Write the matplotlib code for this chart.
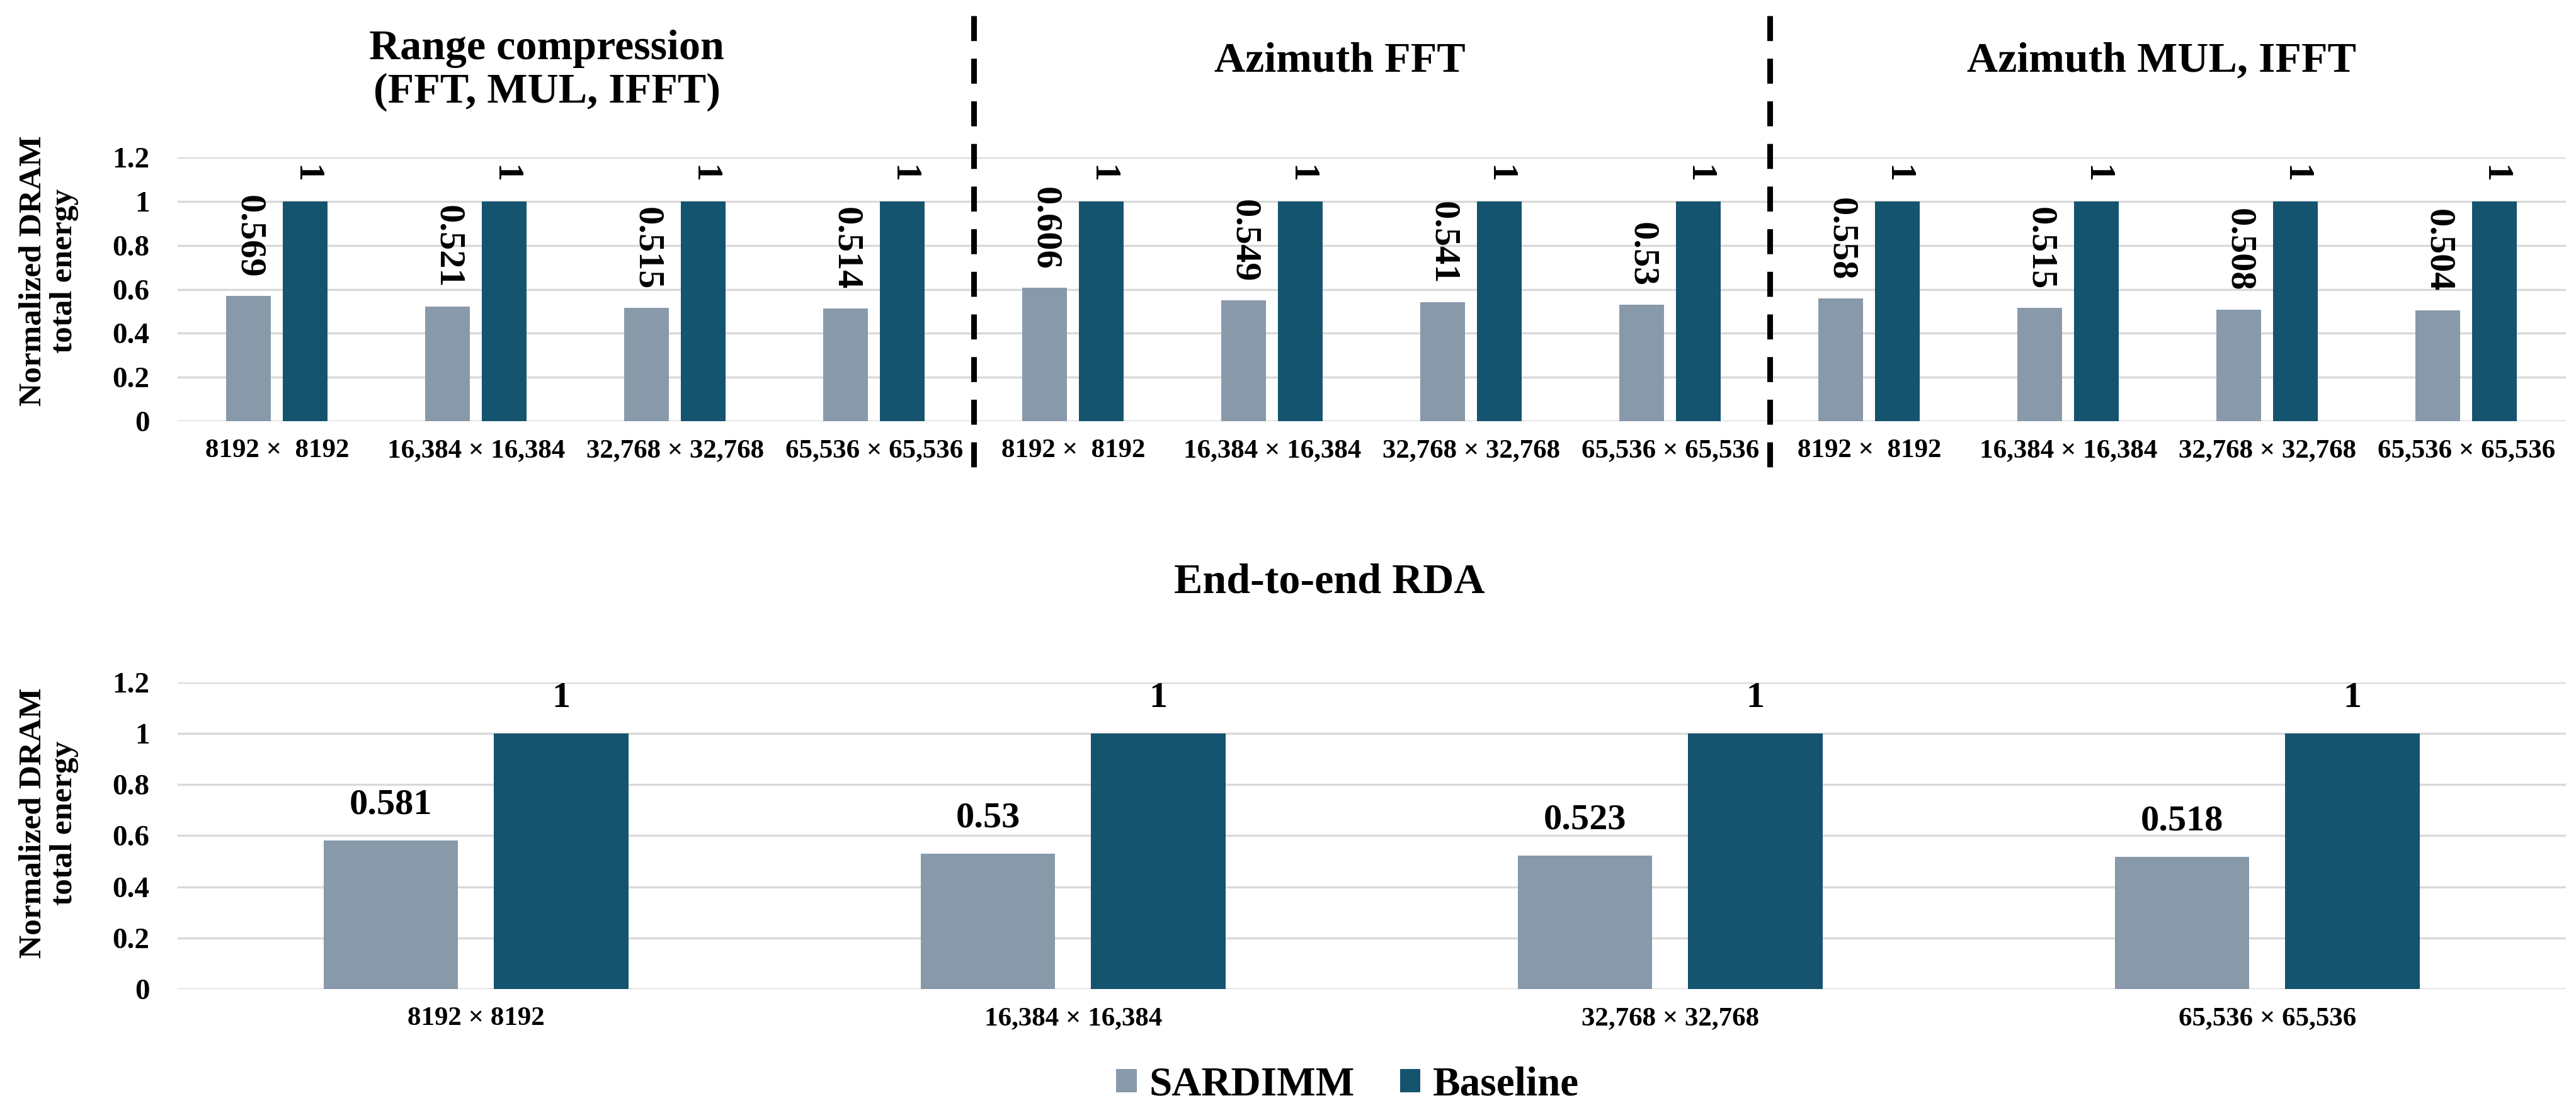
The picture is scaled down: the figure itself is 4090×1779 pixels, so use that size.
import matplotlib
matplotlib.use('Agg')
import matplotlib.pyplot as plt
from matplotlib.transforms import blended_transform_factory

# data
sizes_top = ['8192 ×  8192', '16,384 × 16,384', '32,768 × 32,768', '65,536 × 65,536'] * 3
sizes_bottom = ['8192 × 8192', '16,384 × 16,384', '32,768 × 32,768', '65,536 × 65,536']
stage_titles = ['Range compression\n(FFT, MUL, IFFT)', 'Azimuth FFT', 'Azimuth MUL, IFFT']
sardimm_stage = [0.569, 0.521, 0.515, 0.514, 0.606, 0.549, 0.541, 0.53, 0.558, 0.515, 0.508, 0.504]
baseline_stage = [1, 1, 1, 1, 1, 1, 1, 1, 1, 1, 1, 1]
sardimm_e2e = [0.581, 0.53, 0.523, 0.518]
baseline_e2e = [1, 1, 1, 1]
yticks = [0, 0.2, 0.4, 0.6, 0.8, 1, 1.2]

c_sardimm = '#8899AA'
c_base = '#14546F'
grid_c = '#D9D9D9'
W = 0.225
OFF = 0.1425

plt.rcParams['font.family'] = ['Liberation Serif', 'DejaVu Serif']
plt.rcParams['font.weight'] = 'bold'

fig = plt.figure(figsize=(40.91, 17.79), dpi=100)
ax1 = fig.add_axes([0.0689, 0.6239, 0.9269, 0.2356])
ax2 = fig.add_axes([0.0689, 0.1169, 0.9269, 0.2738])


def style(ax, labels, pad):
    ax.set_ylim(0, 1.2)
    ax.set_yticks(yticks)
    ax.set_yticklabels([f'{t:g}' for t in yticks], fontsize=34, fontweight='bold')
    ax.set_xticks(range(len(labels)))
    ax.set_xticklabels(labels, fontsize=31, fontweight='bold')
    ax.set_xlim(-0.5, len(labels) - 0.5)
    ax.tick_params(axis='y', length=0, pad=32)
    ax.tick_params(axis='x', length=0, pad=pad)
    for s in ax.spines.values():
        s.set_visible(False)
    ax.yaxis.grid(True, color=grid_c, linewidth=2.4)
    ax.set_axisbelow(True)


x1 = list(range(len(sizes_top)))
b1 = ax1.bar([i - OFF for i in x1], sardimm_stage, W, color=c_sardimm, label='SARDIMM')
b2 = ax1.bar([i + OFF for i in x1], baseline_stage, W, color=c_base, label='Baseline')
style(ax1, sizes_top, 20)
for bars, vals in ((b1, sardimm_stage), (b2, baseline_stage)):
    for r, v in zip(bars, vals):
        ax1.annotate(f'{v:g}', (r.get_x() + r.get_width() / 2, v), xytext=(0, 21),
                     textcoords='offset points', rotation=-90, rotation_mode='anchor',
                     ha='right', va='center', fontsize=42, fontweight='bold')

x2 = list(range(len(sizes_bottom)))
e1 = ax2.bar([i - OFF for i in x2], sardimm_e2e, W, color=c_sardimm, label='SARDIMM')
e2 = ax2.bar([i + OFF for i in x2], baseline_e2e, W, color=c_base, label='Baseline')
style(ax2, sizes_bottom, 20)
for bars, vals in ((e1, sardimm_e2e), (e2, baseline_e2e)):
    for r, v in zip(bars, vals):
        ax2.annotate(f'{v:g}', (r.get_x() + r.get_width() / 2, v), xytext=(0, 22),
                     textcoords='offset points', ha='center', va='bottom',
                     fontsize=42, fontweight='bold')

# y labels
for ax, yc in ((ax1, 0.758), (ax2, 0.265)):
    fig.text(0.019, yc, 'Normalized DRAM\ntotal energy', rotation=90, ha='center', va='center',
             fontsize=37, fontweight='bold', linespacing=1.1, multialignment='center')

# stage titles and separators
fig.text(0.2122, 0.937, stage_titles[0], ha='center', va='center', fontsize=49,
         fontweight='bold', linespacing=1.15)
fig.text(0.520, 0.9455, stage_titles[1], ha='center', va='center', fontsize=49, fontweight='bold')
fig.text(0.839, 0.9455, stage_titles[2], ha='center', va='center', fontsize=49, fontweight='bold')
trans = blended_transform_factory(ax1.transData, fig.transFigure)
for xb in (3.5, 7.5):
    ax1.plot([xb, xb], [0.986, 0.578], transform=trans, color='black', lw=6.5,
             linestyle=(0, (4.4, 3.1)), clip_on=False)

fig.text(0.516, 0.480, 'End-to-end RDA', ha='center', va='center', fontsize=49, fontweight='bold')

fig.legend(handles=[e1, e2], labels=['SARDIMM', 'Baseline'], loc='center',
           bbox_to_anchor=(0.523, 0.031), ncol=2, frameon=False, fontsize=47,
           handlelength=0.5, handleheight=0.5, handletextpad=0.3, columnspacing=1.1)

fig.savefig('out.png', dpi=100)
